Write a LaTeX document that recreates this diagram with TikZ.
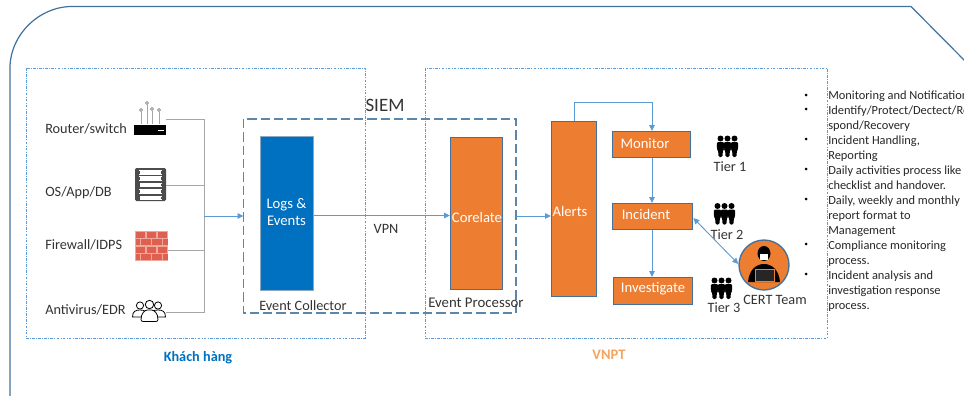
\documentclass[tikz,border=0pt]{standalone}
\usepackage{fontspec}
\setmainfont{Carlito}
\usepackage{tikz}
\usetikzlibrary{arrows.meta}
\definecolor{frameblue}{HTML}{41719C}
\definecolor{flowblue}{HTML}{5B9BD5}
\definecolor{boxorange}{HTML}{ED7D31}
\definecolor{boxblue}{HTML}{0070C0}
\definecolor{labelorange}{HTML}{F4A460}
\definecolor{busgrey}{HTML}{A6A6A6}
\definecolor{brickred}{HTML}{E0604F}
\tikzset{
    flowarrow/.style={draw=flowblue, line width=0.7pt, -{Triangle[length=4.5pt,width=4.2pt]}},
    busline/.style={draw=busgrey, line width=0.7pt},
    zonebox/.style={draw=flowblue, line width=0.5pt, dash pattern=on 2pt off 1pt on 0.6pt off 1pt},
    stagebox/.style={draw=frameblue, line width=1pt, fill=boxorange, text=white, inner sep=0pt, anchor=north west},
    plaintext/.style={inner sep=0pt, text=black!80, font=\fontsize{10.7pt}{12pt}\selectfont},
    boxtext/.style={inner sep=0pt, text=white, font=\fontsize{11pt}{13.4pt}\selectfont},
    iconbox/.style={inner sep=0pt, minimum width=#1, minimum height=10pt},
    pics/tierpeople/.style={code={
        \foreach \px in {-7,0,7} {
            \fill[black] (\px,-8) circle (3);
            \fill[black, rounded corners=1pt] (\px-3.7,-4.4) -- (\px+3.7,-4.4) -- (\px+3.7,2.5) -- (\px+2.4,3.5) -- (\px+2,10.5) -- (\px-2,10.5) -- (\px-2.4,3.5) -- (\px-3.7,2.5) -- cycle;
        }
    }}
}
\begin{document}
\begin{tikzpicture}[x=0.75pt, y=-0.75pt]
    \clip (0,0) rectangle (964,396);
    % outer outline
    \draw[frameblue, line width=0.9pt] (10,400) -- (10,68) .. controls (10,35) and (39,6.5) .. (72,6.5) -- (911,6.5) -- (970,66);

    % zones
    \draw[zonebox] (26,68) rectangle (365,338);
    \draw[zonebox] (425,68) rectangle (827,338);
    \node[inner sep=0pt, minimum width=272.5*0.75pt, minimum height=194*0.75pt] (siem) at (379.75,216) {};
    \draw[frameblue!85, line width=0.9pt, dash pattern=on 7pt off 3pt] (243.5,119) rectangle (516,313);
    \node[plaintext, font=\fontsize{14.2pt}{16pt}\selectfont] (siemlabel) at (385,105) {SIEM};

    % sources
    \node[plaintext, anchor=west] (routerlabel) at (45,129) {Router/switch};
    \node[plaintext, anchor=west] (oslabel) at (45,193) {OS/App/DB};
    \node[plaintext, anchor=west] (firewalllabel) at (45,245) {Firewall/IDPS};
    \node[plaintext, anchor=west] (avlabel) at (45,310) {Antivirus/EDR};

    \node[iconbox=24pt] (router) at (150,119) {};
    \node[iconbox=24pt] (server) at (150,185) {};
    \node[iconbox=25pt] (firewall) at (151.5,250) {};
    \node[iconbox=25pt] (antivirus) at (149.5,312) {};

    % router icon
    \fill[black] (134,125) rectangle (166,135);
    \draw[white, line width=0.3pt] (158,130) -- (164,130);
    \foreach \ax/\ay in {141/110,147/103,152/109,159/110} {
        \draw[black!35, line width=0.4pt] (\ax,\ay+2) -- (\ax,124);
        \draw[black!60, line width=0.4pt] (\ax,\ay) circle (1.5);
    }
    % server icon
    \fill[black!70, rounded corners=1pt] (135,168) rectangle (166,201);
    \foreach \sy in {170,176.4,182.8,189.2,195.6} {
        \fill[white] (139,\sy) rectangle (162,\sy+4.6);
        \fill[black!70] (137,\sy+0.6) rectangle (140,\sy+4);
        \fill[black!70] (161,\sy+1) rectangle (164,\sy+3.6);
    }
    % firewall icon
    \fill[brickred!55!white] (135,231) rectangle (168,261);
    \foreach \by in {0,2} {
        \foreach \bx in {0,11,22} {
            \fill[brickred] (135+\bx+1,231.5+\by*7.5) rectangle (135+\bx+10,237.5+\by*7.5);
        }
        \foreach \bx in {0,5.5,16.5,27.5} {
            \pgfmathsetmacro{\bw}{\bx==0 ? 4.5 : (\bx==27.5 ? 4.5 : 10)}
            \fill[brickred] (135+\bx+0.5,239+\by*7.5) rectangle (135+\bx+0.5+\bw,245+\by*7.5);
        }
    }
    % antivirus icon
    \foreach \hx in {140,158} {
        \draw[black, line width=0.6pt, fill=white] (\hx,305.5) circle (3.6);
        \draw[black, line width=0.6pt, fill=white] (\hx-7.5,317) .. controls (\hx-7.5,311) and (\hx-4,310) .. (\hx,310) .. controls (\hx+4,310) and (\hx+7.5,311) .. (\hx+7.5,317) -- cycle;
    }
    \draw[black, line width=0.6pt, fill=white] (149.5,304.5) circle (4.2);
    \draw[black, line width=0.6pt, fill=white, rounded corners=1.5pt] (141,321.5) .. controls (141,313) and (145,310) .. (149.5,310) .. controls (154,310) and (158,313) .. (158,321.5) -- cycle;

    % bus
    \coordinate (busroot) at (204,216);
    \draw[busline] (router.east) -- (204,119) -- (204,312) -- (antivirus.east);
    \draw[busline] (server.east) -- (server.east -| busroot);
    \draw[busline] (firewall.east) -- (firewall.east -| busroot);
    \coordinate (siemwest) at (243.5,216);
    \draw[flowarrow] (busroot) -- (siemwest);

    % main boxes
    \node[stagebox, draw=frameblue!60, fill=boxblue, minimum width=52.5*0.75pt, minimum height=153.5*0.75pt] (logs) at (260,136) {};
    \node[boxtext, align=center] (logslabel) at (286.5,212) {Logs \&\\Events};
    \node[stagebox, minimum width=52*0.75pt, minimum height=152*0.75pt] (corelate) at (450,137) {};
    \node[boxtext] (corelatelabel) at (477,217) {Corelate};
    \node[stagebox, minimum width=45*0.75pt, minimum height=175*0.75pt] (alerts) at (551,121) {};
    \node[boxtext] (alertslabel) at (570,211.5) {Alerts};
    \node[stagebox, minimum width=78*0.75pt, minimum height=26*0.75pt] (monitor) at (612,131) {};
    \node[boxtext] (monitorlabel) at (645,144) {Monitor};
    \node[stagebox, minimum width=80*0.75pt, minimum height=26*0.75pt] (incident) at (612,203) {};
    \node[boxtext] (incidentlabel) at (646,214) {Incident};
    \node[stagebox, minimum width=79*0.75pt, minimum height=27*0.75pt] (investigate) at (613,277) {};
    \node[boxtext] (investigatelabel) at (653,289) {Investigate};

    \node[plaintext, anchor=west] (collectorlabel) at (259,306) {Event Collector};
    \node[plaintext, anchor=west, font=\fontsize{11.1pt}{13pt}\selectfont] (processorlabel) at (428,303) {Event Processor};
    \node[plaintext] (vpnlabel) at (386,229) {VPN};

    % flows
    \draw[flowarrow] (logs.east |- 0,215.5) -- (corelate.west |- 0,215.5);
    \draw[flowarrow] (516,216) -- (alerts.west |- 0,216);
    \draw[flowarrow] (alerts.north -| 574,0) -- (574,102.5) -- (652,102.5) -- (monitor.north -| 652,0);
    \draw[flowarrow] (monitor.south -| 652,0) -- (incident.north -| 652,0);
    \draw[flowarrow] (incident.south -| 652,0) -- (investigate.north -| 652,0);

    % tiers
    \pic at (727.5,146.5) {tierpeople};
    \pic at (724.5,214) {tierpeople};
    \pic at (721.5,288.5) {tierpeople};
    \node[plaintext] (tierone) at (730,167) {Tier 1};
    \node[plaintext] (tiertwo) at (727,235) {Tier 2};
    \node[plaintext] (tierthree) at (724,308) {Tier 3};

    % cert team
    \node[circle, draw=frameblue, line width=1pt, fill=boxorange, minimum size=50*0.75pt, inner sep=0pt] (cert) at (764,265) {};
    \fill[black] (764,253.5) ellipse (6.5 and 7.5);
    \fill[white] (760,254) rectangle (768,260);
    \fill[black] (748,282) .. controls (749,270) and (756,264) .. (764,264) .. controls (772,264) and (779,270) .. (780,282) -- cycle;
    \fill[black!85, draw=boxorange, line width=0.4pt] (755,269) rectangle (774,281);
    \node[plaintext] (certlabel) at (775,300) {CERT Team};
    \draw[flowarrow, {Triangle[length=4.5pt,width=4.2pt]}-{Triangle[length=4.5pt,width=4.2pt]}] (incident.east |- 0,218) -- (cert.west |- 0,264);

    % footer labels
    \node[inner sep=0pt, text=boxblue, font=\fontsize{10.7pt}{13pt}\selectfont\bfseries] (customerlabel) at (198,358) {Khách hàng};
    \node[inner sep=0pt, text=labelorange, font=\fontsize{10.9pt}{13pt}\selectfont\bfseries] (vnptlabel) at (609,355) {VNPT};

    % duties
    \foreach \ly in {95,109,139,169,199,244,274} {
        \fill[black] (806,\ly) circle (1.5);
    }
    \node[inner sep=0pt, anchor=north west, align=left, text=black!85, font=\fontsize{9.3pt}{11.25pt}\selectfont] (duties) at (828,90.5) {Monitoring and Notification\\Identify/Protect/Dectect/Re\\spond/Recovery\\Incident Handling,\\Reporting\\Daily activities process like\\checklist and handover.\\Daily, weekly and monthly\\report format to\\Management\\Compliance monitoring\\process.\\Incident analysis and\\investigation response\\process.};
\end{tikzpicture}
\end{document}
